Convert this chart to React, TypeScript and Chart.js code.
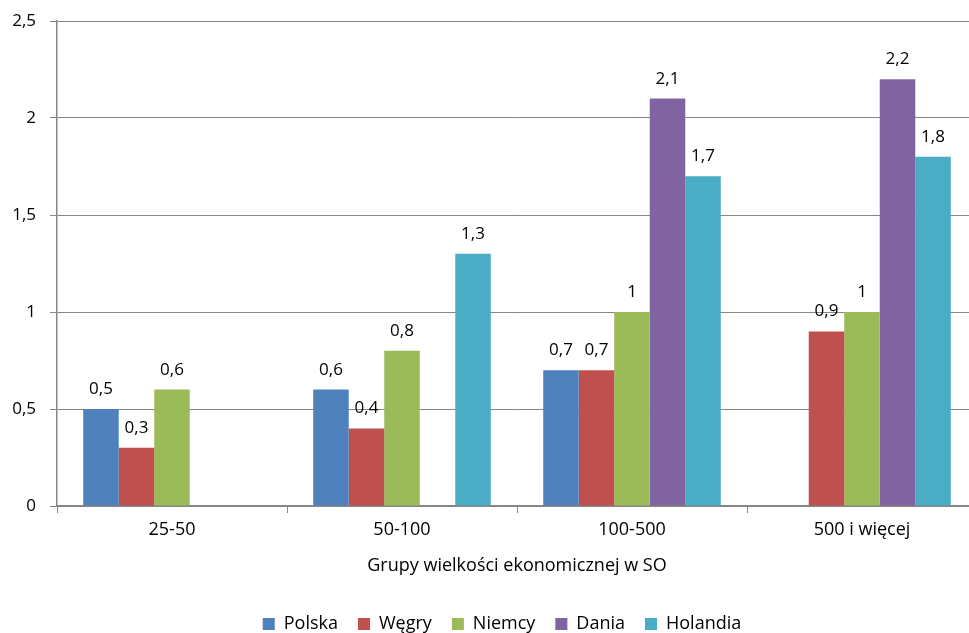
import React, { useEffect, useRef } from 'react';
import { Chart, registerables } from 'chart.js';

Chart.register(...registerables);

const categories = ['25-50', '50-100', '100-500', '500 i więcej'];
const seriesNames = ['Polska', 'Węgry', 'Niemcy', 'Dania', 'Holandia'];
const polska = [0.5, 0.6, 0.7, null];
const wegry = [0.3, 0.4, 0.7, 0.9];
const niemcy = [0.6, 0.8, 1, 1];
const dania = [null, null, 2.1, 2.2];
const holandia = [null, 1.3, 1.7, 1.8];
const seriesColors = ['#4F81BD', '#C0504D', '#9BBB59', '#8064A2', '#4BACC6'];
const yMin = 0;
const yMax = 2.5;
const yStep = 0.5;
const xTitle = 'Grupy wielkości ekonomicznej w SO';

const FONT = '"Open Sans", "Noto Sans", sans-serif';
const FS = 17; // numbers
const FT = 18; // words
const fmt = (v: number) => String(v).replace('.', ',');

const valueLabels = {
  id: 'valueLabels',
  afterDatasetsDraw(chart: any) {
    const ctx = chart.ctx;
    ctx.save();
    ctx.font = `${FS}px ${FONT}`;
    ctx.fillStyle = '#000';
    ctx.textAlign = 'center';
    ctx.textBaseline = 'alphabetic';
    chart.data.datasets.forEach((ds: any, i: number) => {
      const meta = chart.getDatasetMeta(i);
      meta.data.forEach((el: any, j: number) => {
        const v = ds.data[j];
        if (v === null || v === undefined) return;
        ctx.fillText(fmt(v), el.x, el.y - 15);
      });
    });
    ctx.restore();
  },
};

const shiftLegend = {
  id: 'shiftLegend',
  afterLayout(chart: any) {
    if (chart.legend) chart.legend.left = 27;
  },
};

export default function App() {
  const ref = useRef<HTMLCanvasElement | null>(null);
  useEffect(() => {
    if (!ref.current) return;
    const all = [polska, wegry, niemcy, dania, holandia];
    const chart = new Chart(ref.current, {
      type: 'bar',
      data: {
        labels: categories,
        datasets: all.map((d, i) => ({
          label: seriesNames[i],
          data: d,
          backgroundColor: seriesColors[i],
          borderWidth: 0,
          categoryPercentage: 0.772,
          barPercentage: 1,
        })),
      },
      options: {
        responsive: false,
        animation: false,
        color: '#000',
        font: { family: FONT, size: FS },
        layout: { padding: { top: 21, right: 8, left: 0, bottom: 4 } },
        plugins: {
          legend: {
            position: 'bottom',
            labels: {
              boxWidth: 12,
              boxHeight: 12,
              padding: 20,
              color: '#000',
              font: { family: FONT, size: FT },
            },
          },
          tooltip: { enabled: false },
        },
        scales: {
          x: {
            grid: {
              display: true,
              drawOnChartArea: false,
              drawTicks: true,
              tickLength: 7,
              color: '#868686',
              offset: true,
            },
            border: { color: '#868686', width: 1.5 },
            ticks: { color: '#000', padding: 6, font: { family: FONT, size: FT } },
            title: {
              display: true,
              text: xTitle,
              color: '#000',
              font: { family: FONT, size: FT },
              padding: { top: 4, bottom: 18 },
            },
            afterFit: (s: any) => { s.height = 89; s.paddingLeft = 0; s.paddingRight = 0; },
          },
          y: {
            min: yMin,
            max: yMax,
            grid: { color: '#868686', tickLength: 7 },
            border: { color: '#868686', width: 1.5 },
            ticks: {
              stepSize: yStep,
              color: '#000',
              padding: 14,
              font: { family: FONT, size: FS },
              callback: (v: any) => fmt(Number(v)),
            },
            afterFit: (s: any) => { s.width = 57; s.paddingTop = 0; s.paddingBottom = 0; },
          },
        },
      },
      plugins: [valueLabels, shiftLegend],
    } as any);
    return () => chart.destroy();
  }, []);
  return (
    <div style={{ position: 'fixed', left: 0, top: 0, width: 969, height: 633, overflow: 'hidden', background: '#fff' }}>
      <canvas ref={ref} width={985} height={647} style={{ width: 985, height: 647, display: 'block' }} />
    </div>
  );
}
